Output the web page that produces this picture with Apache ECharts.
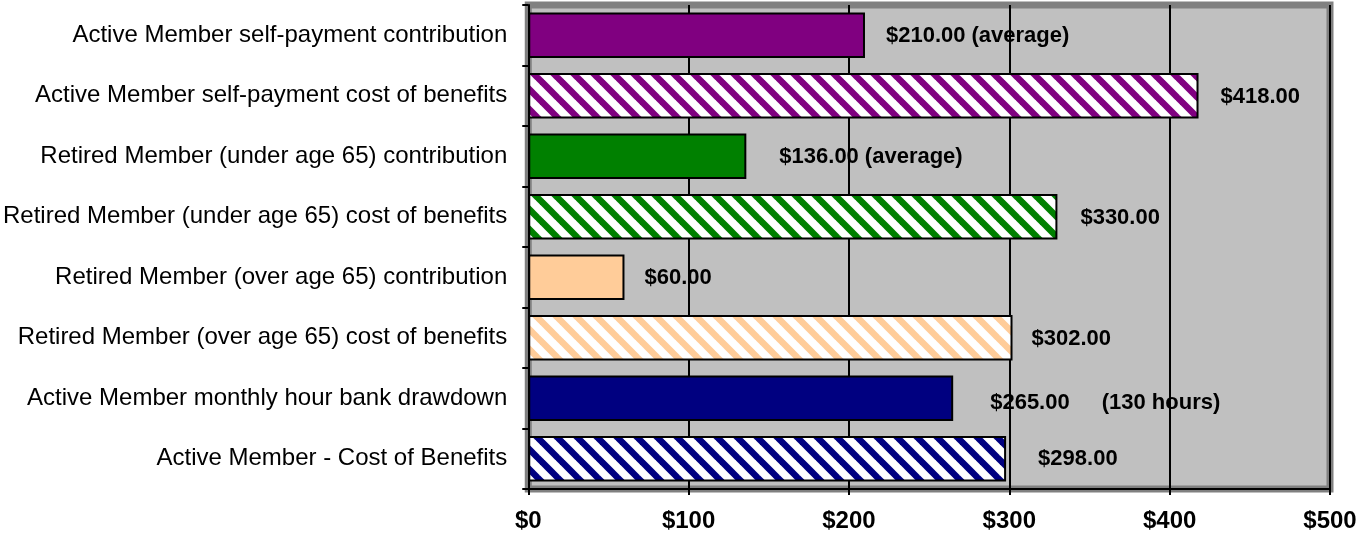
<!DOCTYPE html>
<html>
<head>
<meta charset="utf-8">
<script src="https://cdn.jsdelivr.net/npm/echarts@6/dist/echarts.min.js"></script>
<style>
html,body{margin:0;padding:0;background:#fff;}
#chart{width:1360px;height:543px;}
</style>
</head>
<body>
<div id="chart"></div>
<script>
// ---- data ----
const categories = [
  'Active Member self-payment contribution',
  'Active Member self-payment cost of benefits',
  'Retired Member (under age 65) contribution',
  'Retired Member (under age 65) cost of benefits',
  'Retired Member (over age 65) contribution',
  'Retired Member (over age 65) cost of benefits',
  'Active Member monthly hour bank drawdown',
  'Active Member - Cost of Benefits'
];
const values = [210, 418, 136, 330, 60, 302, 265, 298];
const notes = ['(average)', '', '(average)', '', '', '', '(130 hours)', ''];
const xTicks = { min: 0, max: 500, step: 100 };

// ---- styles ----
const baseColors = ['#800080', '#800080', '#008000', '#008000', '#FFCC99', '#FFCC99', '#000080', '#000080'];
const hatched = [false, true, false, true, false, true, false, true];
const labelGaps = [21, 22, 33, 23, 20, 19, 37, 32];
const labelDy = [1, 1, 1, 1, 1, 1, 5, 0];
const noteGaps = [6, 0, 6, 0, 0, 0, 32, 0];

function stripePattern(color) {
  const s = 20;
  const c = document.createElement('canvas');
  c.width = s; c.height = s;
  const g = c.getContext('2d');
  g.fillStyle = '#ffffff';
  g.fillRect(0, 0, s, s);
  g.strokeStyle = color;
  g.lineWidth = 6.5;
  for (let k = -1; k <= 1; k++) {
    g.beginPath();
    g.moveTo(k * s - 2, -2);
    g.lineTo(k * s + s + 2, s + 2);
    g.stroke();
  }
  return { image: c, repeat: 'repeat' };
}

const FONT = '"Liberation Sans", Arial, sans-serif';

const seriesData = values.map((v, i) => ({
  value: v,
  itemStyle: {
    color: hatched[i] ? stripePattern(baseColors[i]) : baseColors[i],
    borderColor: '#000',
    borderWidth: 2
  },
  label: {
    distance: labelGaps[i],
    offset: [0, labelDy[i]],
    formatter: () => {
      const main = '{v|$' + v.toFixed(2) + '}';
      if (!notes[i]) return main;
      return main + '{n' + i + '|' + notes[i] + '}';
    }
  }
}));

const rich = { v: { fontFamily: FONT, fontWeight: 'bold', fontSize: 22, color: '#000' } };
notes.forEach((n, i) => {
  rich['n' + i] = { fontFamily: FONT, fontWeight: 'bold', fontSize: 22, color: '#000', padding: [0, 0, 0, noteGaps[i]] };
});

const chart = echarts.init(document.getElementById('chart'), null, { renderer: 'canvas' });
chart.setOption({
  animation: false,
  backgroundColor: '#ffffff',
  grid: {
    left: 527, right: 30, top: 5, bottom: 54,
    show: true,
    backgroundColor: '#C0C0C0',
    borderColor: '#808080',
    borderWidth: 7
  },
  xAxis: {
    type: 'value',
    min: xTicks.min, max: xTicks.max, interval: xTicks.step,
    axisLine: { show: true, onZero: false, lineStyle: { color: '#000', width: 2 } },
    axisTick: { show: true, length: 6, lineStyle: { color: '#000', width: 2 } },
    splitLine: { show: true, lineStyle: { color: '#000', width: 2 } },
    axisLabel: {
      margin: 20,
      fontFamily: FONT, fontWeight: 'bold', fontSize: 24, color: '#000',
      formatter: v => '$' + v
    }
  },
  yAxis: {
    type: 'category',
    inverse: true,
    data: categories,
    axisLine: { show: true, lineStyle: { color: '#000', width: 2 } },
    axisTick: { show: true, length: 6, lineStyle: { color: '#000', width: 2 } },
    axisLabel: {
      margin: 21,
      fontFamily: FONT, fontSize: 24, color: '#000'
    }
  },
  series: [{
    type: 'bar',
    data: seriesData,
    barCategoryGap: '25%',
    label: {
      show: true,
      position: 'right',
      rich: rich
    }
  }]
});
</script>
</body>
</html>
